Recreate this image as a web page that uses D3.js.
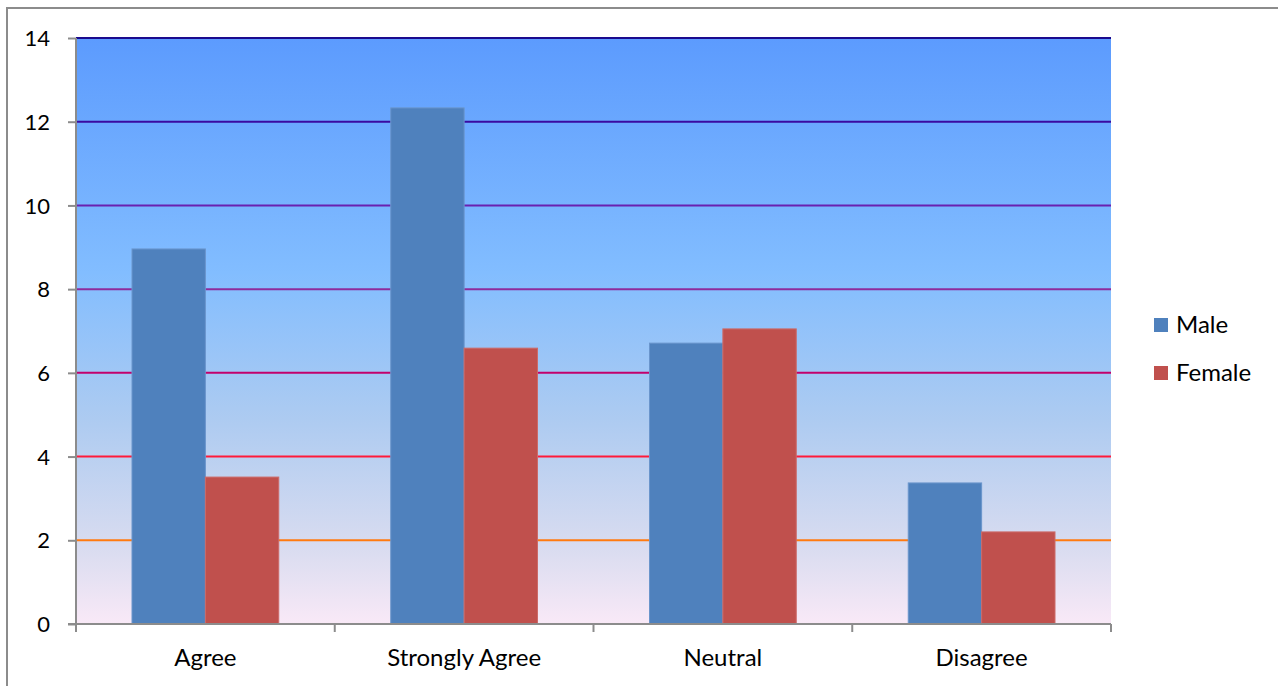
<!DOCTYPE html>
<html>
<head>
<meta charset="utf-8">
<script src="https://cdn.jsdelivr.net/npm/d3@7"></script>
<style>
  body { margin: 0; background: #fff; }
  text { font-family: Lato, "Open Sans", sans-serif; fill: #000; }
</style>
</head>
<body>
<div class="container"></div>
<script>
// data
const categories = ["Agree", "Strongly Agree", "Neutral", "Disagree"]
const series = ["Male", "Female"]
const maleValues = [8.96, 12.33, 6.71, 3.37]
const femaleValues = [3.51, 6.59, 7.05, 2.2]
const yTicks = [0, 2, 4, 6, 8, 10, 12, 14]
const gridColors = ["#ff7a10", "#ff1a3a", "#c2006c", "#8e2b9c", "#6a20b0", "#3a0aa0", "#1a0a8e"]
const colors = ["#4f81bd", "#c0504d"]

const w = 1278
const h = 686
const pLeft = 76, pRight = 1111, pTop = 38, pBottom = 624

const svg = d3.select(".container")
  .append("svg")
  .attr("width", w)
  .attr("height", h)

// outer chart border
svg.append("rect")
  .attr("x", 7).attr("y", 8)
  .attr("width", w + 20).attr("height", h + 20)
  .attr("fill", "#fff")
  .attr("stroke", "#8c8c8c")
  .attr("stroke-width", 2)

const grad = svg.append("defs").append("linearGradient")
  .attr("id", "bg").attr("x1", 0).attr("y1", 0).attr("x2", 0).attr("y2", 1)
grad.append("stop").attr("offset", "0%").attr("stop-color", "#5c9bfe")
grad.append("stop").attr("offset", "40%").attr("stop-color", "#82bdff")
grad.append("stop").attr("offset", "65%").attr("stop-color", "#adcbf1")
grad.append("stop").attr("offset", "87%").attr("stop-color", "#d9dcf0")
grad.append("stop").attr("offset", "100%").attr("stop-color", "#f9e9f7")

const x0 = d3.scaleBand().domain(categories).range([pLeft, pRight]).paddingInner(0).paddingOuter(0)
const x1 = d3.scaleBand().domain(series).range([56, x0.bandwidth() - 56])
const y = d3.scaleLinear().domain([0, 14]).range([pBottom, pTop])

svg.append("rect")
  .attr("x", pLeft).attr("y", pTop)
  .attr("width", pRight - pLeft).attr("height", pBottom - pTop)
  .attr("fill", "url(#bg)")

svg.selectAll(".grid")
  .data(yTicks.slice(1))
  .enter()
  .append("line")
  .attr("x1", pLeft).attr("x2", pRight)
  .attr("y1", d => y(d)).attr("y2", d => y(d))
  .attr("stroke", (d, i) => gridColors[i])
  .attr("stroke-width", 2)

const rows = categories.map((c, i) => ({ cat: c, vals: [maleValues[i], femaleValues[i]] }))

svg.selectAll(".grp")
  .data(rows)
  .enter()
  .append("g")
  .attr("transform", d => "translate(" + x0(d.cat) + ",0)")
  .selectAll("rect")
  .data(d => d.vals.map((v, i) => ({ s: series[i], v: v, i: i })))
  .enter()
  .append("rect")
  .attr("x", d => x1(d.s))
  .attr("width", x1.bandwidth())
  .attr("y", d => y(d.v))
  .attr("height", d => pBottom - y(d.v))
  .attr("fill", d => colors[d.i])
  .attr("stroke", d => d.i == 0 ? "#6a95cc" : "#cc6a68")
  .attr("stroke-width", 1)

const yAxis = d3.axisLeft(y).tickValues(yTicks).tickSize(8).tickPadding(18)
const gy = svg.append("g").attr("transform", "translate(" + pLeft + ",0)").call(yAxis)
gy.select(".domain").attr("stroke", "#8c8c8c").attr("stroke-width", 2).attr("d", "M0," + pTop + "V" + (pBottom + 8))
gy.selectAll(".tick line").attr("stroke", "#8c8c8c").attr("stroke-width", 2)
gy.selectAll("text").style("font-size", "22px").attr("dy", "0.35em")

// x axis with ticks at category boundaries
const gx = svg.append("g")
gx.append("line").attr("x1", pLeft - 8).attr("x2", pRight).attr("y1", pBottom).attr("y2", pBottom)
  .attr("stroke", "#8c8c8c").attr("stroke-width", 2)
gx.selectAll(".xt")
  .data(categories.concat(["end"]))
  .enter()
  .append("line")
  .attr("x1", (d, i) => pLeft + i * x0.bandwidth())
  .attr("x2", (d, i) => pLeft + i * x0.bandwidth())
  .attr("y1", pBottom).attr("y2", pBottom + 8)
  .attr("stroke", "#8c8c8c").attr("stroke-width", 2)
gx.selectAll(".xl")
  .data(categories)
  .enter()
  .append("text")
  .attr("x", d => x0(d) + x0.bandwidth() / 2)
  .attr("y", 666)
  .attr("text-anchor", "middle")
  .style("font-size", "24px")
  .text(d => d)

// legend
const lg = svg.selectAll(".lg")
  .data(series)
  .enter()
  .append("g")
  .attr("transform", (d, i) => "translate(1154," + (318 + i * 48) + ")")
lg.append("rect").attr("width", 14).attr("height", 14).attr("fill", (d, i) => colors[i])
lg.append("text").attr("x", 22).attr("y", 15).style("font-size", "24px").text(d => d)
</script>
</body>
</html>
